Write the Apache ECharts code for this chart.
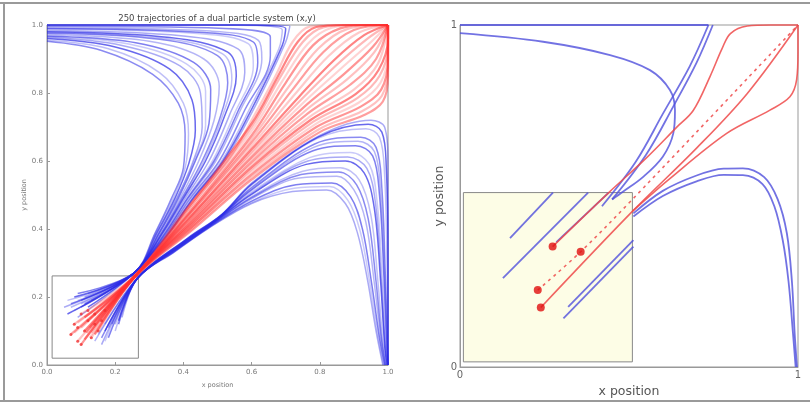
<!DOCTYPE html>
<html><head><meta charset="utf-8">
<script src="https://cdn.jsdelivr.net/npm/echarts@6/dist/echarts.min.js"></script>
<style>html,body{margin:0;padding:0;background:#fff}#c{width:810px;height:404px}</style>
</head><body><div id="c"></div><script>
// ---------- data ----------
const titleText = '250 trajectories of a dual particle system (x,y)';
const leftTickLabels = ['0.0','0.2','0.4','0.6','0.8','1.0'];
const rightTickLabels = ['0','1'];

const leftUpperBlue = [
 [[0.07,0.18],[0.255,0.27],[0.318,0.39],[0.365,0.49],[0.40,0.58],[0.405,0.68],[0.385,0.77],[0.31,0.855],[0.16,0.925],[0,0.952]],
 [[0.06,0.19],[0.255,0.27],[0.32,0.39],[0.37,0.49],[0.405,0.58],[0.415,0.68],[0.40,0.77],[0.33,0.86],[0.18,0.93],[0,0.955]],
 [[0.08,0.20],[0.255,0.27],[0.323,0.39],[0.375,0.49],[0.415,0.59],[0.435,0.69],[0.425,0.78],[0.36,0.87],[0.2,0.935],[0,0.96]],
 [[0.05,0.17],[0.255,0.27],[0.327,0.39],[0.38,0.49],[0.425,0.59],[0.455,0.70],[0.45,0.80],[0.39,0.88],[0.22,0.94],[0,0.964]],
 [[0.09,0.19],[0.255,0.27],[0.33,0.39],[0.382,0.49],[0.43,0.595],[0.465,0.705],[0.465,0.805],[0.41,0.885],[0.24,0.944],[0,0.966]],
 [[0.09,0.21],[0.255,0.27],[0.33,0.39],[0.385,0.49],[0.435,0.60],[0.475,0.71],[0.48,0.81],[0.43,0.89],[0.26,0.948],[0,0.968]],
 [[0.07,0.17],[0.255,0.27],[0.333,0.39],[0.39,0.49],[0.445,0.60],[0.49,0.72],[0.505,0.82],[0.46,0.90],[0.3,0.952],[0,0.972]],
 [[0.10,0.19],[0.255,0.27],[0.337,0.39],[0.395,0.49],[0.455,0.60],[0.505,0.72],[0.53,0.83],[0.5,0.91],[0.33,0.958],[0,0.976]],
 [[0.10,0.18],[0.255,0.27],[0.338,0.39],[0.398,0.49],[0.46,0.60],[0.512,0.725],[0.542,0.84],[0.515,0.915],[0.345,0.96],[0,0.978]],
 [[0.06,0.15],[0.255,0.27],[0.34,0.39],[0.40,0.49],[0.465,0.60],[0.52,0.73],[0.555,0.85],[0.53,0.92],[0.36,0.963],[0,0.98]],
 [[0.11,0.20],[0.255,0.27],[0.343,0.39],[0.405,0.49],[0.475,0.60],[0.535,0.735],[0.58,0.86],[0.56,0.93],[0.4,0.968],[0,0.984]],
 [[0.08,0.16],[0.255,0.27],[0.347,0.39],[0.41,0.49],[0.485,0.60],[0.55,0.74],[0.605,0.88],[0.59,0.945],[0.44,0.975],[0,0.988]],
 [[0.11,0.18],[0.255,0.27],[0.348,0.39],[0.412,0.49],[0.49,0.60],[0.558,0.742],[0.618,0.89],[0.605,0.95],[0.46,0.978],[0,0.99]],
 [[0.12,0.21],[0.255,0.27],[0.35,0.39],[0.415,0.49],[0.495,0.60],[0.565,0.745],[0.63,0.90],[0.62,0.955],[0.48,0.982],[0,0.992]],
 [[0.10,0.17],[0.255,0.27],[0.353,0.39],[0.42,0.49],[0.505,0.60],[0.58,0.75],[0.655,0.91],[0.655,0.965],[0.52,0.99],[0,0.996]],
 [[0.13,0.19],[0.255,0.27],[0.357,0.39],[0.425,0.49],[0.512,0.60],[0.595,0.755],[0.68,0.93],[0.69,0.985],[0.55,0.999],[0,1.0]],
 [[0.12,0.17],[0.255,0.27],[0.358,0.39],[0.428,0.49],[0.516,0.60],[0.603,0.758],[0.69,0.94],[0.70,0.99],[0.57,1.0],[0,1.0]],
 [[0.09,0.14],[0.255,0.27],[0.36,0.39],[0.43,0.49],[0.52,0.60],[0.61,0.76],[0.70,0.95],[0.712,0.997],[0.6,1.0],[0,1.0]]
];
const leftLowerBlue = [
 [[0.16,0.06],[0.265,0.255],[0.37,0.33],[0.47,0.40],[0.6,0.475],[0.72,0.51],[0.82,0.515],[0.875,0.475],[0.91,0.39],[0.94,0.25],[0.965,0.1],[0.985,0]],
 [[0.17,0.07],[0.265,0.255],[0.372,0.332],[0.472,0.402],[0.6,0.478],[0.725,0.52],[0.828,0.525],[0.882,0.485],[0.918,0.395],[0.946,0.245],[0.97,0.09],[0.987,0]],
 [[0.18,0.08],[0.265,0.255],[0.375,0.335],[0.475,0.405],[0.6,0.482],[0.73,0.53],[0.835,0.535],[0.89,0.495],[0.925,0.40],[0.952,0.24],[0.975,0.08],[0.99,0]],
 [[0.14,0.07],[0.265,0.255],[0.38,0.34],[0.48,0.41],[0.6,0.489],[0.74,0.55],[0.85,0.555],[0.90,0.515],[0.935,0.42],[0.96,0.24],[0.98,0.07],[0.992,0]],
 [[0.16,0.08],[0.265,0.255],[0.382,0.342],[0.482,0.412],[0.6,0.492],[0.745,0.56],[0.855,0.568],[0.908,0.53],[0.942,0.43],[0.965,0.245],[0.982,0.07],[0.993,0]],
 [[0.20,0.10],[0.265,0.255],[0.385,0.345],[0.485,0.415],[0.6,0.495],[0.75,0.57],[0.86,0.58],[0.915,0.545],[0.95,0.44],[0.97,0.25],[0.985,0.07],[0.995,0]],
 [[0.17,0.10],[0.265,0.255],[0.39,0.35],[0.49,0.42],[0.6,0.502],[0.76,0.59],[0.875,0.60],[0.93,0.565],[0.96,0.46],[0.978,0.25],[0.99,0.06],[0.997,0]],
 [[0.18,0.11],[0.265,0.255],[0.392,0.352],[0.492,0.422],[0.6,0.505],[0.765,0.60],[0.882,0.612],[0.938,0.578],[0.964,0.47],[0.98,0.255],[0.992,0.055],[0.998,0]],
 [[0.15,0.09],[0.265,0.255],[0.395,0.355],[0.495,0.425],[0.6,0.509],[0.77,0.61],[0.89,0.625],[0.945,0.59],[0.968,0.48],[0.983,0.26],[0.993,0.05],[1,0]],
 [[0.21,0.12],[0.265,0.255],[0.40,0.36],[0.50,0.43],[0.6,0.515],[0.78,0.63],[0.905,0.645],[0.955,0.615],[0.975,0.50],[0.988,0.26],[0.996,0.05],[1,0]],
 [[0.20,0.12],[0.265,0.255],[0.402,0.362],[0.502,0.432],[0.6,0.518],[0.782,0.64],[0.912,0.658],[0.96,0.628],[0.978,0.51],[0.99,0.265],[1,0]],
 [[0.19,0.12],[0.265,0.255],[0.405,0.365],[0.505,0.435],[0.6,0.522],[0.785,0.65],[0.92,0.67],[0.965,0.64],[0.982,0.52],[0.992,0.27],[1,0]],
 [[0.17,0.12],[0.265,0.255],[0.41,0.37],[0.51,0.44],[0.6,0.529],[0.79,0.665],[0.935,0.695],[0.975,0.67],[0.99,0.56],[0.997,0.30],[1,0]],
 [[0.21,0.13],[0.265,0.255],[0.412,0.372],[0.512,0.442],[0.6,0.532],[0.795,0.67],[0.942,0.708],[0.982,0.685],[0.995,0.58],[1,0.3],[1,0]],
 [[0.22,0.14],[0.265,0.255],[0.415,0.375],[0.515,0.445],[0.6,0.535],[0.80,0.675],[0.95,0.72],[0.99,0.70],[1,0.60],[1,0.30],[1,0]]
];
const leftRed = [
 [[0.10,0.15],[0.26,0.265],[0.40,0.45],[0.53,0.60],[0.60,0.72],[0.67,0.85],[0.72,0.95],[0.77,0.995],[0.85,1.0],[1,1]],
 [[0.11,0.14],[0.26,0.265],[0.402,0.447],[0.60,0.71],[0.675,0.845],[0.735,0.95],[0.79,0.994],[0.87,1.0],[1,1]],
 [[0.08,0.12],[0.26,0.265],[0.405,0.445],[0.60,0.70],[0.68,0.84],[0.75,0.95],[0.81,0.993],[0.90,1.0],[1,1]],
 [[0.09,0.125],[0.26,0.265],[0.407,0.442],[0.60,0.688],[0.69,0.835],[0.765,0.945],[0.835,0.992],[0.92,1.0],[1,1]],
 [[0.12,0.13],[0.26,0.264],[0.41,0.44],[0.60,0.675],[0.70,0.83],[0.78,0.94],[0.86,0.99],[0.95,1.0],[1,1]],
 [[0.10,0.11],[0.26,0.264],[0.41,0.437],[0.60,0.665],[0.71,0.82],[0.795,0.93],[0.88,0.988],[1,1]],
 [[0.07,0.09],[0.26,0.264],[0.41,0.435],[0.60,0.655],[0.72,0.81],[0.81,0.92],[0.90,0.985],[1,1]],
 [[0.08,0.095],[0.26,0.264],[0.412,0.432],[0.60,0.645],[0.73,0.80],[0.825,0.908],[0.915,0.978],[1,1]],
 [[0.11,0.10],[0.26,0.264],[0.415,0.43],[0.60,0.635],[0.74,0.79],[0.84,0.895],[0.93,0.97],[1,1]],
 [[0.125,0.11],[0.26,0.264],[0.415,0.427],[0.60,0.627],[0.745,0.78],[0.85,0.883],[0.94,0.96],[1,1]],
 [[0.14,0.12],[0.26,0.263],[0.415,0.425],[0.60,0.62],[0.75,0.77],[0.86,0.87],[0.95,0.95],[1,1]],
 [[0.115,0.095],[0.26,0.263],[0.417,0.422],[0.60,0.612],[0.755,0.76],[0.87,0.855],[0.955,0.935],[1,1]],
 [[0.09,0.07],[0.26,0.263],[0.42,0.42],[0.60,0.605],[0.76,0.75],[0.88,0.84],[0.96,0.92],[1,1]],
 [[0.11,0.075],[0.26,0.263],[0.42,0.417],[0.60,0.597],[0.765,0.74],[0.89,0.825],[0.965,0.90],[1,1]],
 [[0.13,0.08],[0.26,0.262],[0.42,0.415],[0.60,0.59],[0.77,0.73],[0.90,0.81],[0.97,0.885],[1,1]],
 [[0.14,0.09],[0.26,0.262],[0.422,0.412],[0.60,0.582],[0.775,0.722],[0.905,0.797],[0.972,0.867],[1,0.96],[1,1]],
 [[0.15,0.10],[0.26,0.262],[0.425,0.41],[0.60,0.575],[0.78,0.715],[0.91,0.785],[0.975,0.85],[1,0.94],[1,1]],
 [[0.125,0.08],[0.26,0.262],[0.425,0.407],[0.60,0.567],[0.785,0.707],[0.915,0.772],[0.978,0.83],[1,0.92],[1,1]],
 [[0.10,0.06],[0.26,0.261],[0.425,0.405],[0.60,0.56],[0.79,0.70],[0.92,0.76],[0.98,0.81],[1,0.90],[1,1]],
 [[0.13,0.095],[0.26,0.261],[0.427,0.402],[0.60,0.552],[0.795,0.692],[0.925,0.747],[0.982,0.792],[1,0.875],[1,1]],
 [[0.16,0.13],[0.26,0.261],[0.43,0.40],[0.60,0.545],[0.80,0.685],[0.93,0.735],[0.985,0.775],[1,0.85],[1,1]]
];
const leftRedStartMarks = [[0.07,0.09],[0.08,0.12],[0.09,0.07],[0.10,0.06],[0.10,0.15],[0.11,0.10],[0.12,0.13],[0.13,0.08],[0.14,0.12],[0.15,0.10],[0.16,0.13],[0.12,0.16],[0.09,0.11],[0.14,0.15],[0.17,0.16]];
const leftInsetBox = [[0.015,0.02],[0.268,0.262]];

const rightInsetBox = [[0.01,0.015],[0.51,0.51]];
const rightBlue = [
 [[0,0.976],[0.246,0.951],[0.444,0.912],[0.562,0.868],[0.621,0.81],[0.636,0.751],[0.631,0.683],[0.60,0.615],[0.542,0.556],[0.483,0.513],[0.45,0.49]],
 [[0,1],[0.735,1]],
 [[0.42,0.47],[0.52,0.60],[0.60,0.74],[0.68,0.88],[0.735,1.0]],
 [[0.45,0.49],[0.55,0.62],[0.63,0.76],[0.70,0.89],[0.748,1.0]],
 [[0.513,0.449],[0.60,0.515],[0.70,0.56],[0.78,0.58],[0.837,0.581],[0.90,0.555],[0.94,0.49],[0.967,0.391],[0.982,0.25],[0.99,0.1],[0.997,0]],
 [[0.513,0.44],[0.60,0.50],[0.70,0.543],[0.78,0.562],[0.837,0.561],[0.895,0.535],[0.93,0.47],[0.955,0.37],[0.972,0.25],[0.985,0.1],[0.993,0]],
 [[0.148,0.377],[0.275,0.51]],
 [[0.127,0.26],[0.379,0.51]],
 [[0.306,0.142],[0.513,0.352]],
 [[0.32,0.176],[0.513,0.371]],
 [[0.285,0.365],[0.44,0.51]]
];
const rightRedSolid = [
 [[0.274,0.352],[0.44,0.51],[0.55,0.61],[0.64,0.70],[0.69,0.75],[0.74,0.85],[0.775,0.93],[0.80,0.975],[0.85,0.997],[0.92,1.0],[1,1]],
 [[0.239,0.174],[0.51,0.455],[0.70,0.64],[0.85,0.80],[1,1]],
 [[0.51,0.455],[0.62,0.55],[0.789,0.683],[0.917,0.751],[0.976,0.79],[0.996,0.84],[1,0.92],[1,1]]
];
const rightRedDashed = [[0.23,0.225],[0.357,0.337],[0.51,0.49],[1,1]];
const rightRedDots = [[0.274,0.352],[0.357,0.337],[0.23,0.225],[0.239,0.174]];

// ---------- chart ----------
const FONT = 'DejaVu Sans';
const chart = echarts.init(document.getElementById('c'), null, {renderer:'canvas'});
const series = [];
function addLine(pts, gi, color, width, opacity, z, extra) {
  series.push(Object.assign({
    type:'line', xAxisIndex:gi, yAxisIndex:gi, data:pts, symbol:'none', showSymbol:false,
    smooth:0.35, silent:true, animation:false, clip:false, z:z,
    lineStyle:{color:color, width:width, opacity:opacity}
  }, extra||{}));
}
series.push({type:'line', xAxisIndex:0, yAxisIndex:0, data:[], silent:true, z:1,
  markArea:{silent:true, itemStyle:{color:'rgba(0,0,0,0)', borderColor:'#888', borderWidth:1},
    data:[[{coord:leftInsetBox[0]},{coord:leftInsetBox[1]}]]}});
const op = [0.55,0.3,0.7,0.4,0.25,0.6,0.35];
leftUpperBlue.forEach((c,i)=>addLine(c,0,'#2a2ae6',1.5,op[i%op.length],3));
leftLowerBlue.forEach((c,i)=>addLine(c,0,'#2a2ae6',1.5,op[(i+3)%op.length],3));
leftRed.forEach((c,i)=>addLine(c,0,'#ff3030',2.2,op[(i+1)%op.length]*0.85,4));
series.push({type:'scatter', xAxisIndex:0, yAxisIndex:0, data:leftRedStartMarks, symbolSize:3,
  itemStyle:{color:'#f03030', opacity:0.8}, silent:true, animation:false, z:5});

series.push({type:'line', xAxisIndex:1, yAxisIndex:1, data:[], silent:true, z:1,
  markArea:{silent:true, itemStyle:{color:'#fdfde6', borderColor:'#888', borderWidth:1},
    data:[[{coord:rightInsetBox[0]},{coord:rightInsetBox[1]}]]}});
rightBlue.forEach(c=>addLine(c,1,'#4f4fdc',1.8,0.8,3));
rightRedSolid.forEach(c=>addLine(c,1,'#ee4a4a',1.6,0.85,4));
addLine(rightRedDashed,1,'#ee4a4a',1.6,0.85,4,{lineStyle:{color:'#ee4a4a',width:1.6,opacity:0.85,type:[3,4]}});
series.push({type:'scatter', xAxisIndex:1, yAxisIndex:1, data:rightRedDots, symbolSize:8,
  itemStyle:{color:'#e00e0e'}, silent:true, animation:false, z:6});

function leftAxis(dim){
  return {type:'value', gridIndex:0, min:0, max:1, interval:0.2,
    axisLine:{show:true, lineStyle:{color:'#999'}},
    axisTick:{show:true, inside:true, length:3, lineStyle:{color:'#999'}},
    splitLine:{show:false},
    axisLabel:{fontSize:7, color:'#777', fontFamily:FONT, margin:4,
      formatter:v=>leftTickLabels[Math.round(v/0.2)]},
    name: dim==='x'?'x position':'y position', nameLocation:'middle', nameGap: dim==='x'?17:19,
    nameTextStyle:{fontSize:6.5, color:'#777', fontFamily:FONT}};
}
function rightAxis(dim){
  return {type:'value', gridIndex:1, min:0, max:1, interval:1,
    axisLine:{show:true, lineStyle:{color:'#999'}},
    axisTick:{show:false}, splitLine:{show:false},
    axisLabel:{fontSize:10, color:'#666', fontFamily:FONT, margin:3,
      formatter:v=>rightTickLabels[Math.round(v)]},
    name: dim==='x'?'x position':'y position', nameLocation:'middle', nameGap: dim==='x'?13:11,
    nameTextStyle:{fontSize:12.5, color:'#555', fontFamily:FONT}};
}
chart.setOption({
  animation:false,
  backgroundColor:'#fff',
  grid:[
    {left:47, top:25, width:341, height:340, show:true, borderColor:'#999', borderWidth:1, backgroundColor:'#fff'},
    {left:460, top:25, width:338, height:342, show:true, borderColor:'#999', borderWidth:1, backgroundColor:'#fff'}
  ],
  xAxis:[leftAxis('x'), rightAxis('x')],
  yAxis:[leftAxis('y'), rightAxis('y')],
  series: series,
  graphic:[
    {type:'text', x:217, y:19, z:10, style:{text:titleText, font:'8.5px "DejaVu Sans"', fill:'#444', align:'center', verticalAlign:'middle'}},
    {type:'line', shape:{x1:0,y1:3,x2:810,y2:3}, style:{stroke:'#9a9a9a', lineWidth:2}},
    {type:'line', shape:{x1:4,y1:3,x2:4,y2:402}, style:{stroke:'#9a9a9a', lineWidth:2}},
    {type:'line', shape:{x1:0,y1:401,x2:810,y2:401}, style:{stroke:'#9a9a9a', lineWidth:2}}
  ]
});
</script></body></html>
